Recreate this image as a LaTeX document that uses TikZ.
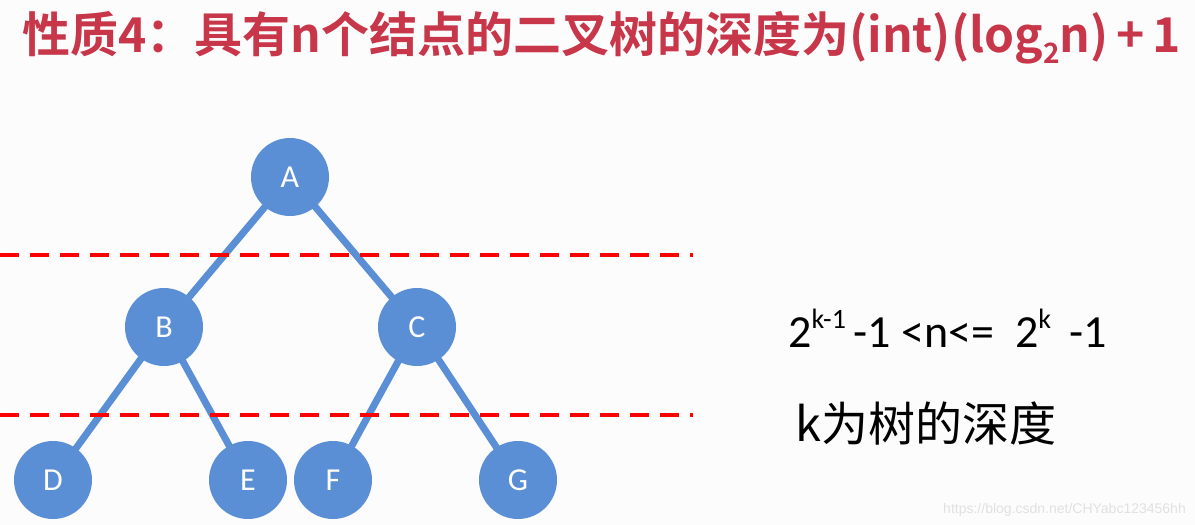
\documentclass[tikz,border=0pt]{standalone}
\usepackage{fontspec}
\setmainfont{Carlito}
\newfontfamily\cjk{Noto Sans CJK SC}
\newfontfamily\cjkb{Noto Sans CJK SC Bold}
\newfontfamily\wm{Liberation Sans}
\definecolor{nodeblue}{RGB}{91,143,213}
\definecolor{titlered}{RGB}{200,54,74}
\definecolor{wmgray}{RGB}{225,225,225}
\begin{document}
\begin{tikzpicture}[x=1pt,y=-1pt,
  tn/.style={circle,fill=nodeblue,minimum size=78pt,inner sep=0pt,text=white,font=\fontsize{32}{32}\selectfont},
  edge/.style={draw=nodeblue,line width=7pt},
  level/.style={draw=red,line width=4.5pt,dash pattern=on 19pt off 11pt}]
\fill[white!98!gray] (0,0) rectangle (1195,525);
\useasboundingbox (0,0) rectangle (1195,525);
% dashed lines
\coordinate (l1a) at (0,255); \coordinate (l1b) at (693,255);
\coordinate (l2a) at (0,415); \coordinate (l2b) at (693,415);
% nodes positions
\coordinate (pA) at (290,177);
\coordinate (pB) at (164,327);
\coordinate (pC) at (417,327);
\coordinate (pD) at (53,480);
\coordinate (pE) at (248,480);
\coordinate (pF) at (333,480);
\coordinate (pG) at (518,480);
\draw[edge] (pA) -- (pB);
\draw[edge] (pA) -- (pC);
\draw[edge] (pB) -- (pD);
\draw[edge] (pB) -- (pE);
\draw[edge] (pC) -- (pF);
\draw[edge] (pC) -- (pG);
\node[tn] (A) at (pA) {A};
\node[tn] (B) at (pB) {B};
\node[tn] (C) at (pC) {C};
\node[tn] (D) at (pD) {D};
\node[tn] (E) at (pE) {E};
\node[tn] (F) at (pF) {F};
\node[tn] (G) at (pG) {G};
\draw[level] (l1a) -- (l1b);
\draw[level] (l2a) -- (l2b);
% title
\node[anchor=west,inner sep=0pt,text=titlered,font=\cjkb\fontsize{48}{48}\selectfont] (title) at (22,38)
  {性质4：具有n个结点的二叉树的深度为(int)(log\raisebox{-0.22em}{\fontsize{28}{28}\selectfont 2}n)\,+\,1};
% formula
\node[anchor=base west,inner sep=0pt,font=\fontsize{46}{46}\selectfont] (formula) at (788,347)
  {2\raisebox{0.40em}{\fontsize{28}{28}\selectfont k-1}\,-1 <n<=\ \ 2\raisebox{0.40em}{\fontsize{28}{28}\selectfont k}\ \,-1};
\node[anchor=base west,inner sep=0pt,font=\cjk\fontsize{47}{47}\selectfont] (depth) at (795,441)
  {k为树的深度};
\node[anchor=base east,inner sep=0pt,text=wmgray,font=\wm\fontsize{14}{14}\selectfont] (wm) at (1186,513)
  {https://blog.csdn.net/CHYabc123456hh};
\end{tikzpicture}
\end{document}
